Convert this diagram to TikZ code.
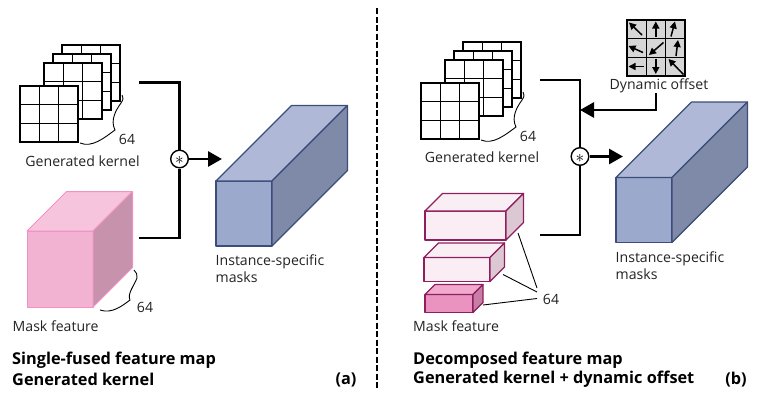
\documentclass[tikz,border=0pt]{standalone}
\usepackage{fontspec}
\setmainfont{Open Sans}
\usetikzlibrary{arrows.meta}
\definecolor{bfront}{HTML}{9BA9CD}
\definecolor{btop}{HTML}{AFB9D7}
\definecolor{bside}{HTML}{7F89A8}
\definecolor{bline}{HTML}{3C4D7A}
\definecolor{pfront}{HTML}{F2B3D3}
\definecolor{ptop}{HTML}{F6C4DC}
\definecolor{pside}{HTML}{C792AC}
\definecolor{pline}{HTML}{F291C4}
\definecolor{mline}{HTML}{8E1F5E}
\definecolor{lfront}{HTML}{FAEDF4}
\definecolor{ltop}{HTML}{FAEEF5}
\definecolor{lside}{HTML}{DCC8D2}
\definecolor{dfront}{HTML}{EA93C0}
\definecolor{dtop}{HTML}{F2A9CE}
\definecolor{dside}{HTML}{C87DA5}
\definecolor{txt}{HTML}{222222}
% cuboid: x, y (front top-left), w, h, d, front, top, side, outline
\newcommand{\mycuboid}[9]{%
  \draw[#9, line join=round, fill=#6] (#1,#2) rectangle ++(#3,#4);
  \draw[#9, line join=round, fill=#7] (#1,#2) -- ++(#5,-#5) -- ++(#3,0) -- ++(-#5,#5) -- cycle;
  \draw[#9, line join=round, fill=#8] (#1+#3,#2) -- ++(#5,-#5) -- ++(0,#4) -- ++(-#5,#5) -- cycle;
}
\tikzset{
  kgrid/.pic={
    \draw[fill=white, line width=1.6pt] (0,0) rectangle (58,56);
    \draw[line width=1.1pt] (19.33,0) -- (19.33,56) (38.67,0) -- (38.67,56)
      (0,18.67) -- (58,18.67) (0,37.33) -- (58,37.33);
    \draw[line width=1.7pt] (0,0) rectangle (58,56);
  },
  lbl/.style={text=txt, font=\fontsize{14.1}{17}\selectfont, inner sep=0pt},
  ttl/.style={text=black, font=\fontsize{16.3}{20}\selectfont\bfseries, inner sep=0pt, anchor=west},
  bracket/.style={line width=2.4pt, line join=miter},
  conv/.style={circle, draw, fill=white, line width=1.4pt, minimum size=17.6pt, inner sep=0pt},
  bigarrow/.style={line width=2.8pt, -{Triangle[length=14pt,width=15pt]}},
  squig/.style={line width=0.9pt},
  thin/.style={line width=0.9pt},
  offarr/.style={line width=1.5pt, -{Triangle[length=7pt,width=7pt]}},
}
\newcommand{\convsym}{\fontsize{17}{17}\selectfont$\ast$}
\begin{document}
\begin{tikzpicture}[x=1pt,y=-1pt]
\useasboundingbox (0,0) rectangle (772,402);
% ---------- (a) ----------
\pic at (62,45) {kgrid};
\pic at (53,54) {kgrid};
\pic at (44,63) {kgrid};
\pic at (20,86) {kgrid};
\draw[squig] (80,143) .. controls (92,148) and (104,138) .. (115,130)
  .. controls (110,120) and (116,110) .. (121,103) .. controls (124,99) and (123,97) .. (122,95);
\node[lbl] (k64a) at (127,139) {64};
\node[lbl] (gka) at (82.5,161) {Generated kernel};
\mycuboid{27}{231}{66}{76}{39.5}{pfront}{ptop}{pside}{draw=pline, line width=1pt}
\draw[squig] (100,310) .. controls (112,314) and (122,306) .. (130,300)
  .. controls (127,294) and (134,286) .. (137,278) .. controls (138,275) and (136,272) .. (134,270);
\node[lbl] (m64a) at (145,307) {64};
\node[lbl, anchor=west] (mfa) at (12.5,326) {Mask feature};
\node[conv] (ca) at (179.5,159) {};
\node[inner sep=0pt] (cas) at ([yshift=-1.5pt]ca.center) {\convsym};
\coordinate (ta) at (139,82.5);
\coordinate (ba) at (139,238);
\draw[bracket] (ta) -- (ta -| ca) -- (ca.north);
\draw[bracket] (ba) -- (ba -| ca) -- (ca.south);
\coordinate (ea) at (222,159);
\draw[bigarrow] (ca.east) -- (ea);
\mycuboid{216}{181}{56}{65}{75.5}{bfront}{btop}{bside}{draw=bline, line width=1.1pt}
\node[lbl, anchor=west, align=left] (ima) at (215.5,269) {Instance-specific\\masks};
\node[ttl] (t1a) at (12,360) {Single-fused feature map};
\node[ttl] (t2a) at (12,379.5) {Generated kernel};
\node[ttl, anchor=center] (la) at (346,379.5) {(a)};
% divider
\coordinate (d1) at (376.7,8);
\coordinate (d2) at (376.7,390);
\draw[line width=2pt, dash pattern=on 6pt off 2.5pt] (d1) -- (d2);
% ---------- (b) ----------
\pic at (463,42) {kgrid};
\pic at (454,51) {kgrid};
\pic at (445,60) {kgrid};
\pic at (421,83) {kgrid};
\draw[squig] (481,140) .. controls (493,145) and (505,135) .. (516,127)
  .. controls (511,117) and (517,107) .. (522,100) .. controls (525,96) and (524,94) .. (523,92);
\node[lbl] (k64b) at (528,136.5) {64};
\node[lbl] (gkb) at (482,157) {Generated kernel};
\mycuboid{425}{211}{81}{29}{17.5}{lfront}{ltop}{lside}{draw=mline, line width=1.3pt}
\mycuboid{424}{257.5}{66}{24}{14.5}{lfront}{ltop}{lside}{draw=mline, line width=1.3pt}
\mycuboid{425}{294.5}{48}{18}{10}{dfront}{dtop}{dside}{draw=mline, line width=1.3pt}
\node[lbl] (m64b) at (551,299) {64};
\coordinate (s1) at (518,233);
\coordinate (s2) at (503,274.5);
\coordinate (s3) at (483,305);
\draw[thin] (s1) -- (537,288);
\draw[thin] (s2) -- (537,292);
\draw[thin] (s3) -- (537,298.5);
\node[lbl, anchor=west] (mfb) at (413,326) {Mask feature};
\node[conv] (cb) at (580,156.5) {};
\node[inner sep=0pt] (cbs) at ([yshift=-1.5pt]cb.center) {\convsym};
\coordinate (tb) at (540,80);
\coordinate (bb) at (540,235);
\draw[bracket] (tb) -- (tb -| cb) -- (cb.north);
\draw[bracket] (bb) -- (bb -| cb) -- (cb.south);
\coordinate (eb) at (623,156.5);
\draw[bigarrow] (cb.east) -- (eb);
% dynamic offset grid
\fill[gray!32] (626.7,20) rectangle (685,75.7);
\draw[line width=1.1pt] (646.1,20) -- (646.1,75.7) (665.6,20) -- (665.6,75.7)
  (626.7,38.6) -- (685,38.6) (626.7,57.1) -- (685,57.1);
\draw[line width=1.7pt] (626.7,20) rectangle (685,75.7);
\draw[offarr] (642,35) -- (629,22.5);
\draw[offarr] (655.8,36.5) -- (655.8,21.5);
\draw[offarr] (671,36.5) -- (675,21.5);
\draw[offarr] (643,52.5) -- (628.5,46);
\draw[offarr] (663.5,42.5) -- (649,55);
\draw[offarr] (676,56) -- (678,40);
\draw[offarr] (643.5,66.5) -- (628.5,66.5);
\draw[offarr] (655.8,58.5) -- (655.8,74);
\draw[offarr] (683.5,74.5) -- (668.5,59);
\node[lbl] (dyn) at (659,86) {Dynamic offset};
\coordinate (db) at (656,110);
\draw[line width=2.8pt, -{Triangle[length=14pt,width=15pt]}] (dyn.south -| db) -- (db) -- (db -| cb);
\mycuboid{616}{177.5}{56}{65}{75.5}{bfront}{btop}{bside}{draw=bline, line width=1.1pt}
\node[lbl, anchor=west, align=left] (imb) at (615.5,265.5) {Instance-specific\\masks};
\node[ttl] (t1b) at (413,360) {Decomposed feature map};
\node[ttl] (t2b) at (413,379.5) {Generated kernel + dynamic offset};
\node[ttl, anchor=center] (lb) at (736,379.5) {(b)};
\end{tikzpicture}
\end{document}
